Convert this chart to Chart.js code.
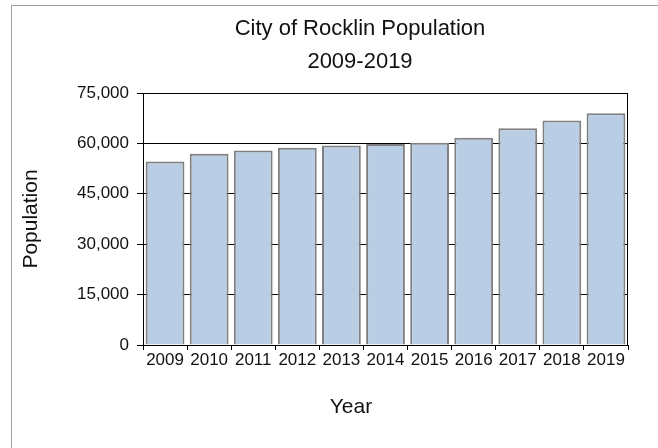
<!DOCTYPE html>
<html><head><meta charset="utf-8">
<script src="https://cdn.jsdelivr.net/npm/chart.js@4/dist/chart.umd.min.js"></script>
<style>
html,body{margin:0;padding:0;background:#fff;overflow:hidden;width:658px;height:448px;}
#frame{position:absolute;left:11px;top:5px;width:700px;height:500px;border-top:1px solid #a0a0a0;border-left:1px solid #a0a0a0;}
#wrap{position:absolute;left:0;top:0;width:658px;height:448px;}
</style></head><body>
<div id="frame"></div>
<div id="wrap"><canvas id="c" width="658" height="448"></canvas></div>
<script>
const titleLines = ['City of Rocklin Population', '2009-2019'];
const years = ['2009','2010','2011','2012','2013','2014','2015','2016','2017','2018','2019'];
const population = [54600, 56900, 57900, 58700, 59400, 59800, 60200, 61700, 64500, 66800, 69000];
const yTicks = [0, 15000, 30000, 45000, 60000, 75000];
const xTitle = 'Year';
const yTitle = 'Population';

const FONT = "'Liberation Sans', Arial, sans-serif";

const textPlugin = {
  id: 'texts',
  afterDatasetsDraw(chart) {
    const {ctx, chartArea} = chart;
    ctx.save();
    ctx.strokeStyle = '#000';
    ctx.lineWidth = 1;
    ctx.beginPath();
    ctx.moveTo(Math.round(chartArea.right) - 0.5, chartArea.top);
    ctx.lineTo(Math.round(chartArea.right) - 0.5, chartArea.bottom);
    ctx.stroke();
    ctx.restore();
  },
  afterDraw(chart) {
    const {ctx} = chart;
    ctx.save();
    ctx.fillStyle = '#111';
    ctx.textAlign = 'center';
    ctx.textBaseline = 'middle';
    ctx.font = '22px ' + FONT;
    ctx.fillText(titleLines[0], 360, 29);
    ctx.fillText(titleLines[1], 360, 62);
    ctx.font = '21px ' + FONT;
    ctx.fillText(xTitle, 351, 407);
    ctx.restore();
  }
};

new Chart(document.getElementById('c'), {
  type: 'bar',
  data: {
    labels: years,
    datasets: [{
      data: population,
      backgroundColor: '#b9cde5',
      borderColor: '#808080',
      borderWidth: 2,
      barPercentage: 0.88,
      categoryPercentage: 1.0
    }]
  },
  options: {
    responsive: false,
    devicePixelRatio: 1,
    animation: false,
    layout: { padding: { left: 12, right: 30, top: 93, bottom: 0 } },
    plugins: { legend: { display: false }, title: { display: false }, tooltip: { enabled: false } },
    scales: {
      x: {
        grid: { display: true, drawOnChartArea: false, drawTicks: true, tickLength: 5, color: '#000', offset: true },
        border: { display: true, color: '#000', width: 1 },
        ticks: { color: '#111', font: { family: FONT, size: 17 }, padding: 0, maxRotation: 0, autoSkip: false },
        afterFit(scale) { scale.height = 103; }
      },
      y: {
        min: 0, max: 75000,
        afterBuildTicks(scale) { scale.ticks = yTicks.map(v => ({ value: v })); },
        grid: { color: '#000', lineWidth: 1, tickLength: 6, drawTicks: true },
        border: { display: true, color: '#000', width: 1 },
        ticks: { color: '#111', font: { family: FONT, size: 17 }, padding: 8,
          callback: v => Number(v).toLocaleString('en-US') },
        title: { display: true, text: yTitle, color: '#111', font: { family: FONT, size: 21 }, padding: { top: 7, bottom: 0 } },
        afterFit(scale) { scale.width = 131; }
      }
    }
  },
  plugins: [textPlugin]
});
</script>
</body></html>
